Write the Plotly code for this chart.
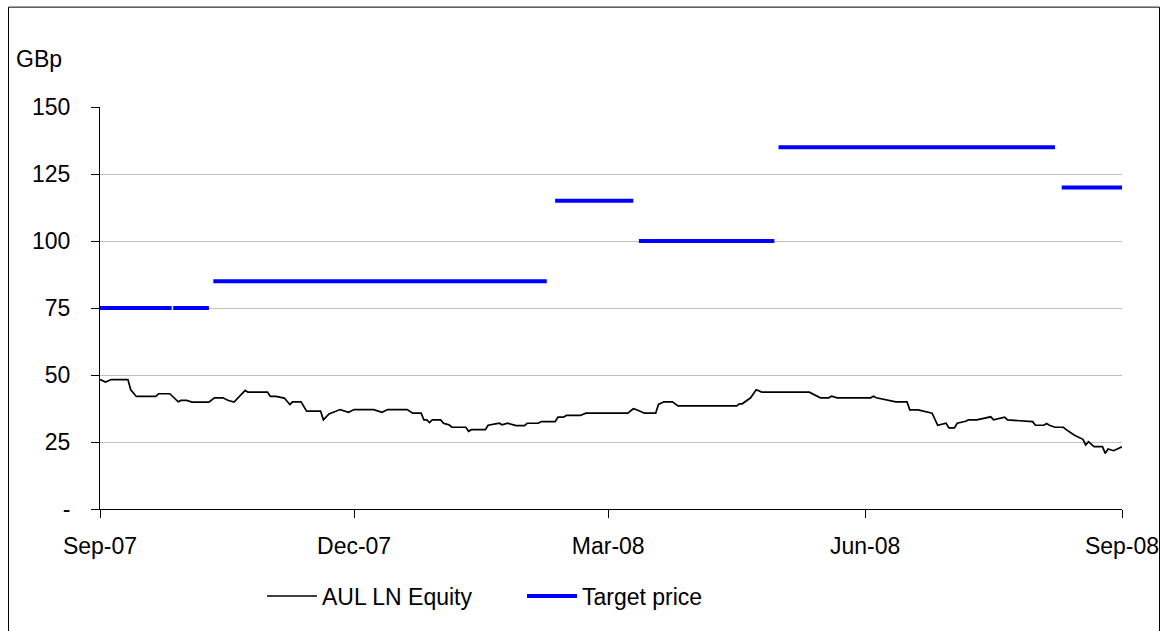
import plotly.graph_objects as go

# ---- Data ----
price_dates = [
    "2007-09-01", "2007-09-03", "2007-09-05", "2007-09-11", "2007-09-12", "2007-09-14",
    "2007-09-21", "2007-09-22", "2007-09-26", "2007-09-29", "2007-09-30", "2007-10-02",
    "2007-10-04", "2007-10-10", "2007-10-12", "2007-10-15", "2007-10-17", "2007-10-19",
    "2007-10-23", "2007-10-24", "2007-10-31", "2007-11-01", "2007-11-03", "2007-11-06",
    "2007-11-08", "2007-11-09", "2007-11-12", "2007-11-14", "2007-11-19", "2007-11-20",
    "2007-11-22", "2007-11-26", "2007-11-29", "2007-12-01", "2007-12-08", "2007-12-11",
    "2007-12-13", "2007-12-20", "2007-12-22", "2007-12-25", "2007-12-26", "2007-12-27",
    "2007-12-28", "2007-12-29", "2008-01-01", "2008-01-02", "2008-01-04", "2008-01-05",
    "2008-01-10", "2008-01-11", "2008-01-12", "2008-01-17", "2008-01-18", "2008-01-22",
    "2008-01-23", "2008-01-25", "2008-01-28", "2008-01-31", "2008-02-01", "2008-02-05",
    "2008-02-06", "2008-02-11", "2008-02-12", "2008-02-14", "2008-02-15", "2008-02-20",
    "2008-02-22", "2008-03-08", "2008-03-10", "2008-03-11", "2008-03-14", "2008-03-18",
    "2008-03-19", "2008-03-21", "2008-03-24", "2008-03-26", "2008-04-16", "2008-04-17",
    "2008-04-18", "2008-04-21", "2008-04-23", "2008-04-25", "2008-05-12", "2008-05-14",
    "2008-05-16", "2008-05-19", "2008-05-20", "2008-05-22", "2008-06-03", "2008-06-04",
    "2008-06-05", "2008-06-12", "2008-06-16", "2008-06-17", "2008-06-20", "2008-06-25",
    "2008-06-27", "2008-06-30", "2008-07-01", "2008-07-03", "2008-07-04", "2008-07-07",
    "2008-07-08", "2008-07-11", "2008-07-15", "2008-07-16", "2008-07-17", "2008-07-21",
    "2008-07-22", "2008-07-29", "2008-07-31", "2008-08-01", "2008-08-04", "2008-08-05",
    "2008-08-06", "2008-08-08", "2008-08-11", "2008-08-12", "2008-08-15", "2008-08-18",
    "2008-08-19", "2008-08-20", "2008-08-22", "2008-08-25", "2008-08-26", "2008-08-27",
    "2008-08-29", "2008-09-01",
]
price_values = [
    48.3, 47.4, 48.3, 48.3, 44.5, 42.0,
    42.0, 43.0, 43.0, 40.0, 40.5, 40.5,
    39.9, 39.9, 41.5, 41.5, 40.5, 39.9,
    44.25, 43.6, 43.6, 42.0, 42.0, 41.4,
    39.0, 40.0, 40.0, 36.5, 36.5, 33.3,
    35.5, 37.1, 36.1, 37.1, 37.1, 36.1,
    37.1, 37.1, 35.75, 35.75, 33.25, 33.25,
    32.25, 33.25, 33.25, 32.0, 31.4, 30.5,
    30.5, 29.0, 29.6, 29.6, 31.25, 32.0,
    31.4, 32.0, 31.1, 31.1, 32.0, 32.0,
    32.6, 32.6, 34.25, 34.25, 34.9, 34.9,
    35.75, 35.75, 37.4, 37.1, 35.75, 35.75,
    39.0, 40.0, 40.0, 38.5, 38.5, 39.25,
    39.25, 41.5, 44.5, 43.6, 43.6, 42.4,
    41.5, 41.5, 42.1, 41.5, 41.5, 42.1,
    41.5, 40.0, 40.0, 37.0, 37.0, 35.75,
    31.25, 32.0, 30.25, 30.25, 32.0, 32.75,
    33.25, 33.25, 34.4, 34.4, 33.25, 34.25,
    33.25, 32.6, 32.6, 31.25, 31.25, 31.9,
    31.25, 30.5, 30.5, 29.6, 27.5, 26.0,
    23.9, 25.1, 23.25, 23.25, 20.75, 22.4,
    21.75, 23.25,
]

target_starts = ["2007-09-01", "2007-09-27 05:00", "2007-10-11 14:00", "2008-02-11",
                 "2008-03-12", "2008-05-01", "2008-08-10 10:00"]
target_ends = ["2007-09-26 16:00", "2007-10-10", "2008-02-08", "2008-03-10",
               "2008-04-29 12:00", "2008-08-08", "2008-09-01"]
target_values = [75, 75, 85, 115, 100, 135, 120]

tick_dates = ["2007-09-01", "2007-12-01", "2008-03-01", "2008-06-01", "2008-09-01"]
tick_labels = ["Sep-07", "Dec-07", "Mar-08", "Jun-08", "Sep-08"]
y_ticks = [0, 25, 50, 75, 100, 125, 150]
y_labels = ["-", "25", "50", "75", "100", "125", "150"]

# ---- Build target-price segments (gaps between segments) ----
tx, ty = [], []
for s, e, v in zip(target_starts, target_ends, target_values):
    tx += [s, e, None]
    ty += [v, v, None]

FONT = "Liberation Sans, Arial, sans-serif"

fig = go.Figure()
fig.add_trace(go.Scatter(
    x=price_dates, y=price_values, mode="lines", name="AUL LN Equity",
    line=dict(color="#000000", width=1.7),
))
fig.add_trace(go.Scatter(
    x=tx, y=ty, mode="lines", name="Target price",
    line=dict(color="#0000FF", width=4), connectgaps=False,
))

fig.update_layout(
    width=1160, height=631,
    margin=dict(l=100, r=38, t=107, b=122, autoexpand=False),
    paper_bgcolor="white", plot_bgcolor="white",
    font=dict(family=FONT, size=23, color="#000000"),
    showlegend=True,
    legend=dict(
        orientation="h", x=(262 - 100) / 1022, xanchor="left",
        y=(509 - 596) / 401.7, yanchor="middle",
        font=dict(family=FONT, size=23, color="#000000"),
        bgcolor="rgba(0,0,0,0)", entrywidth=195, itemwidth=50,
        tracegroupgap=0,
    ),
    xaxis=dict(
        type="date", range=["2007-09-01", "2008-09-01"], automargin=False,
        tickvals=tick_dates, ticktext=tick_labels,
        showgrid=False, zeroline=False,
        showline=True, linecolor="#000000", linewidth=1,
        ticks="outside", ticklen=8, tickcolor="#000000", tickwidth=1,
        ticklabelstandoff=8,
        tickfont=dict(family=FONT, size=23, color="#000000"),
    ),
    yaxis=dict(
        range=[0, 150], tickvals=y_ticks, ticktext=y_labels, automargin=False,
        showgrid=True, gridcolor="#c0c0c0", gridwidth=1,
        zeroline=False,
        showline=True, linecolor="#000000", linewidth=1,
        ticks="outside", ticklen=8, tickcolor="#000000", tickwidth=1,
        ticklabelstandoff=16,
        tickfont=dict(family=FONT, size=23, color="#000000"),
    ),
    annotations=[dict(
        text="GBp", xref="paper", yref="paper",
        x=(14 - 100) / 1022, y=(509 - 59) / 401.7,
        xanchor="left", yanchor="middle", showarrow=False,
        font=dict(family=FONT, size=23, color="#000000"),
    )],
    shapes=[dict(
        type="rect", xref="paper", yref="paper",
        x0=(8.5 - 100) / 1022, x1=(1159.5 - 100) / 1022,
        y0=(509 - 700) / 401.7, y1=(509 - 7.5) / 401.7,
        line=dict(color="#000000", width=1), fillcolor="rgba(0,0,0,0)",
        layer="below",
    )],
)

fig.write_html(
    "out.html",
    config={"displayModeBar": False},
    post_script="document.body.style.margin='0';document.body.style.overflow='hidden';",
)
